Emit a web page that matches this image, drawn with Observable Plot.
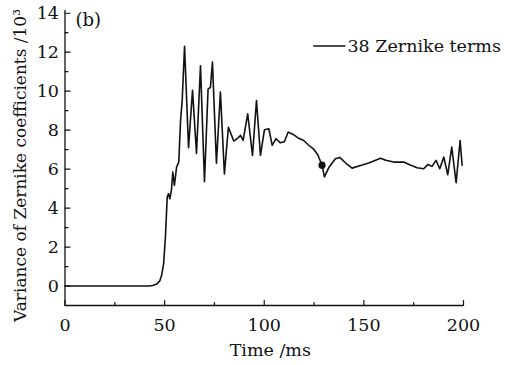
<!DOCTYPE html>
<html>
<head>
<meta charset="utf-8">
<script src="https://cdn.jsdelivr.net/npm/d3@7"></script>
<script src="https://cdn.jsdelivr.net/npm/@observablehq/plot@0.6"></script>
<style>
  html, body { margin: 0; padding: 0; background: #ffffff; }
  #chart { width: 516px; height: 365px; }
</style>
</head>
<body>
<div id="chart"></div>
<script>
// Time (ms)
const time = [0, 42, 44, 46, 47.5, 48.5, 49.5, 50.4, 51.3, 52.0, 52.6, 53.4, 54.1, 54.9, 56, 57.1, 58, 58.8, 60,
  62, 64, 66, 68, 70, 71.8, 73, 74, 76, 78, 80, 82, 84.7, 86.4, 88.1, 89.4, 91.7, 94.1, 96.1, 98.1, 100.1,
  102.3, 104, 105.9, 108.1, 110.1, 112, 114.5, 117, 119.8, 122, 124.8, 126.8, 128.2, 129, 130.2, 132.4,
  135.7, 137.9, 141, 144.1, 148.3, 152.4, 155, 158.3, 161, 165, 170, 173, 176.7, 180, 182.2, 184.2, 186.2,
  188.1, 190.1, 192.1, 194.1, 196.3, 198.3, 199.3];
// Variance of Zernike coefficients (x10^3), 38 Zernike terms
const variance = [0, 0, 0.03, 0.1, 0.25, 0.55, 1.15, 2.5, 4.56, 4.74, 4.48, 4.9, 5.85, 5.16, 6.1, 6.36, 8.5, 9.5, 12.3,
  7.1, 10.05, 6.8, 11.3, 5.35, 10.1, 10.2, 11.5, 6.3, 9.95, 5.75, 8.15, 7.44, 7.56, 7.73, 7.47, 8.84, 6.7, 9.52, 6.7, 8.02,
  8.07, 7.22, 7.56, 7.35, 7.4, 7.9, 7.78, 7.6, 7.47, 7.25, 7.02, 6.75, 6.4, 6.2, 5.6, 6.08,
  6.53, 6.6, 6.3, 6.05, 6.19, 6.31, 6.42, 6.56, 6.45, 6.36, 6.36, 6.22, 6.07, 6.02, 6.24, 6.14, 6.45,
  6.02, 6.62, 5.71, 7.13, 5.3, 7.47, 6.2];
// Highlighted point
const markTime = [129];
const markValue = [6.2];

const xMajor = [0, 50, 100, 150, 200];
const xMinor = [25, 75, 125, 175];
const yMajor = [0, 2, 4, 6, 8, 10, 12, 14];
const yMinor = [1, 3, 5, 7, 9, 11, 13];

const seriesName = "38 Zernike terms";
const legendX = [124.8, 141];
const legendY = [12.32];
const panelLabel = "(b)";
const xTitle = "Time /ms";
const yTitle = "Variance of Zernike coefficients /10\u00B3";

const data = time.map((t, i) => ({t, v: variance[i]}));
const point = markTime.map((t, i) => ({t, v: markValue[i]}));

const tickShape = {draw(context, l) { context.moveTo(0, 0); context.lineTo(0, -l); }};
const font = "DejaVu Serif";

const chart = Plot.plot({
  width: 516,
  height: 365,
  marginLeft: 64.5,
  marginRight: 53,
  marginTop: 10,
  marginBottom: 60,
  x: {domain: [0, 200]},
  y: {domain: [-1, 14.14]},
  style: {fontFamily: font, fontSize: "17px", background: "#ffffff", color: "#111"},
  marks: [
    Plot.ruleY([-1], {stroke: "#111", strokeWidth: 1.3}),
    Plot.ruleX([0], {stroke: "#111", strokeWidth: 1.3}),
    Plot.vector(xMajor, {x: d => d, frameAnchor: "bottom", length: 5, anchor: "start", shape: tickShape, stroke: "#111", strokeWidth: 1.2}),
    Plot.vector(xMinor, {x: d => d, frameAnchor: "bottom", length: 3, anchor: "start", shape: tickShape, stroke: "#111", strokeWidth: 1.2}),
    Plot.vector(yMajor, {y: d => d, frameAnchor: "left", length: 5, rotate: 90, anchor: "start", shape: tickShape, stroke: "#111", strokeWidth: 1.2}),
    Plot.vector(yMinor, {y: d => d, frameAnchor: "left", length: 3, rotate: 90, anchor: "start", shape: tickShape, stroke: "#111", strokeWidth: 1.2}),
    Plot.axisX({ticks: xMajor, tickSize: 0, tickPadding: 13, label: null, fontSize: 17.5, fill: "#111"}),
    Plot.axisY({ticks: yMajor, tickSize: 0, tickPadding: 6, label: null, fontSize: 17.5, fill: "#111"}),
    Plot.text([xTitle], {frameAnchor: "bottom", dy: 38, dx: 6, lineAnchor: "top", fontSize: 17.5, fill: "#111"}),
    Plot.text([yTitle], {frameAnchor: "left", textAnchor: "middle", lineAnchor: "middle", rotate: -90, dx: -44.5, dy: 7.5, fontSize: 17, fill: "#111"}),
    Plot.text([panelLabel], {frameAnchor: "top-left", dx: 10.5, dy: 2.5, textAnchor: "start", fontSize: 18, fill: "#111"}),
    Plot.line(data, {x: "t", y: "v", stroke: "#111", strokeWidth: 1.6, curve: "linear"}),
    Plot.dot(point, {x: "t", y: "v", r: 3.6, fill: "#111", stroke: "none"}),
    Plot.ruleY(legendY, {x1: legendX[0], x2: legendX[1], stroke: "#111", strokeWidth: 1.5}),
    Plot.text([seriesName], {x: legendX[1], y: legendY[0], dx: 1.5, textAnchor: "start", fontSize: 17.5, fill: "#111"})
  ]
});
document.getElementById("chart").appendChild(chart);
</script>
</body>
</html>
